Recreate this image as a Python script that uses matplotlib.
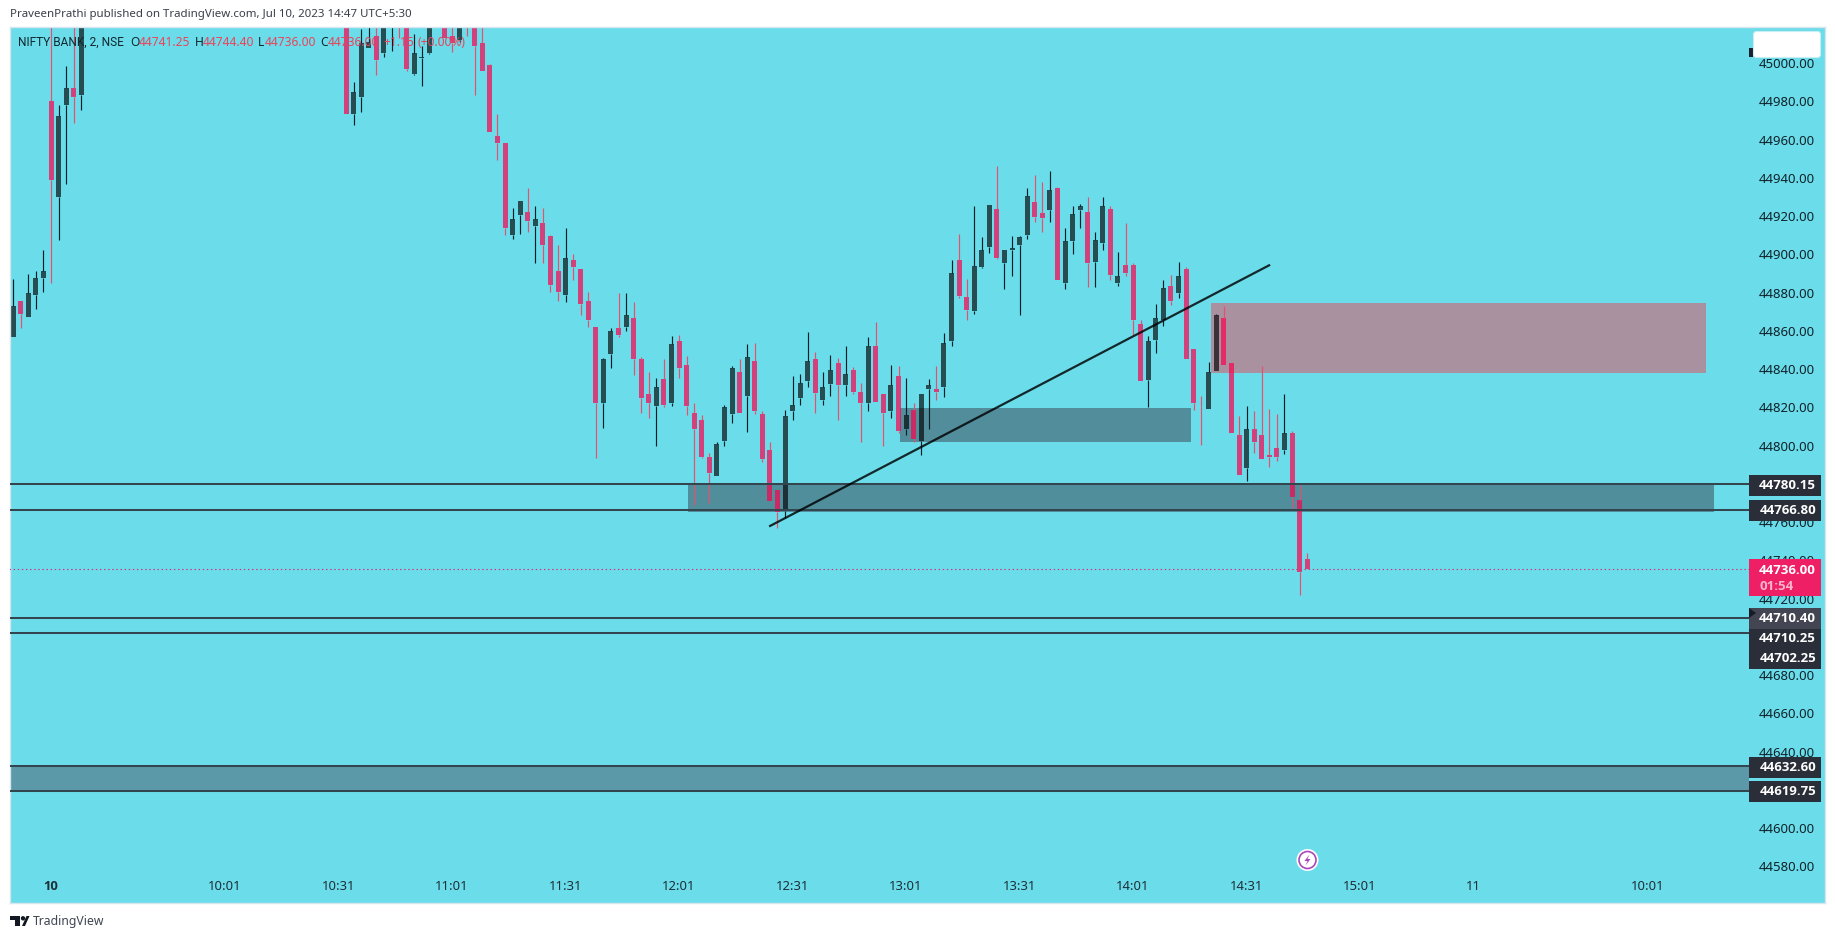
import numpy as np
import matplotlib
matplotlib.use("Agg")
import matplotlib.pyplot as plt
from matplotlib.patches import Rectangle, FancyBboxPatch, Polygon, Circle
from matplotlib.transforms import ScaledTranslation

plt.rcParams['font.family'] = ['Noto Sans', 'DejaVu Sans']

H = np.nan
HID = [H] * 34

# candle values, previous session tail then the visible ones; NaN = above the visible range
opens = [44857.4,44876.2,44867.8,44879.3,44888.2,44980.3,44930.6,44978.2,44987.1,44983.9] + HID + [
 45030,44973.5,44982.4,45008.5,45014.3,45005.4,45025,45030,45025,44994.9,45002.8,45005.4,H,45030,45014.3,45012.7,45030,45028,45011.1,44999.6,
 44962.5,44958.8,44910.7,44920.7,44922.7,44915.4,44916.5,44909.7,44891.4,44879.3,44897.6,44892.9,44876.2,44862.6,44822.4,44848.5,44861.6,44862.6,44867.3,44845.9,
 44827.6,44821.3,44835.4,44822.4,44854.8,44842.7,44817.6,44813.5,44794.6,44784.7,44803.0,44817.1,44838.6,44826.5,44844.8,44817.1,44798.3,44777.4,44766.4,44818.2,
 44825.0,44833.9,44845.4,44824.4,44832.8,44843.8,44832.3,44840.1,44828.6,44822.9,44852.7,44827.1,44818.7,44836.5,44808.8,44819.2,44803.0,44829.7,44830.2,44831.2,
 44854.8,44897.6,44878.3,44870.5,44893.5,44904.4,44924.3,44896.1,44902.9,44905.0,44910.7,44928.0,44922.2,44923.3,44934.8,44885.6,44907.6,44923.3,44922.7,44896.6,
 44906.5,44924.3,44885.6,44895.0,44895.0,44864.2,44834.9,44855.8,44866.3,44884.0,44880.4,44892.9,44851.1,44820.8,44819.7,44839.6,44867.3,44843.8,44806.1,44788.4,
 44808.8,44806.1,44795.7,44799.3,44798.3,44806.7,44772.1,44741.25]
highs = [44887.7,44876.2,44890.3,44891.4,44902.9,45035,44978.7,44998.6,45030,45035] + HID + [
 45035,44990.7,45018.4,45030,45022,45035,45035,45035,45030,45015.8,45009.5,45035,H,45035,45030,45035,45035,45035,45025,45000.1,
 44974.0,44958.8,44924.8,44928.5,44935.3,44925.9,44924.8,44910.7,44905.5,44913.9,44900.8,44892.9,44880.9,44862.6,44846.4,44862.1,44879.9,44880.4,44875.2,44846.9,
 44838.6,44835.9,44845.9,44857.9,44858.4,44847.4,44822.4,44816.6,44796.7,44802.5,44821.8,44842.2,44845.4,44853.7,44854.2,44818.2,44802.5,44777.4,44819.2,44837.0,
 44838.0,44860.0,44849.5,44839.1,44848.0,44846.4,44852.2,44841.7,44833.3,44856.9,44865.2,44827.1,44842.7,44842.2,44835.9,44822.9,44827.1,44835.4,44842.2,44859.5,
 44897.6,44911.2,44887.7,44925.4,44909.2,44926.4,44946.8,44902.4,44909.7,44910.2,44934.8,44941.6,44938.4,44943.7,44935.8,44913.9,44925.4,44926.9,44930.1,44912.3,
 44930.6,44925.9,44901.8,44916.5,44896.1,44865.8,44857.9,44874.6,44886.7,44889.8,44896.6,44893.5,44851.1,44826.5,44844.3,44869.4,44873.1,44843.8,44816.1,44821.3,
 44818.2,44842.2,44819.7,44817.1,44827.1,44808.2,44780.0,44744.4]
lows = [44856.9,44861.6,44867.6,44872.0,44880.9,44885.6,44908.1,44937.4,44969.3,44976.1] + HID + [
 44973.5,44968.2,44975.0,45008.3,44993.9,45003.8,45006.9,45013.7,44996.0,44994.4,44988.6,45005.0,H,45013.7,45006.4,45011.6,45014.3,44983.9,44996.0,44964.1,
 44949.9,44910.7,44908.6,44911.2,44912.3,44896.1,44896.1,44880.9,44876.2,44875.7,44887.2,44868.9,44862.6,44794.1,44809.8,44841.2,44856.9,44860.5,44837.5,44817.6,
 44815.0,44800.4,44820.8,44821.3,44835.9,44816.6,44769.5,44794.1,44770.6,44784.5,44799.9,44812.4,44817.4,44807.7,44817.1,44792.0,44771.4,44757.5,44762.7,44814.0,
 44821.8,44831.2,44817.6,44821.8,44826.5,44814.0,44826.5,44827.1,44802.5,44818.2,44823.2,44800.4,44815.0,44807.2,44806.1,44802.5,44795.2,44808.8,44824.4,44826.0,
 44852.2,44877.8,44866.3,44869.4,44893.3,44901.3,44898.0,44882.5,44889.3,44868.4,44908.6,44917.5,44911.8,44917.5,44887.0,44882.0,44900.8,44914.4,44883.5,44883.5,
 44902.9,44887.2,44884.0,44889.3,44858.4,44833.9,44820.3,44849.0,44863.1,44874.1,44877.8,44845.7,44819.2,44800.9,44819.5,44839.4,44842.5,44807.2,44785.0,44781.6,
 44796.7,44793.1,44789.4,44792.5,44796.2,44766.9,44722.0,44736.0]
closes = [44873.1,44869.4,44879.9,44888.2,44891.9,44939.0,44972.9,44987.1,44982.9,45026] + HID + [
 44973.5,44985.5,45011.1,45011.6,45002.2,45025,45030,45024,44997.5,45005.9,45003.8,45028,H,45013.7,45011.1,45025,45025,45009.5,44996.0,44964.1,
 44958.8,44914.4,44919.1,44928.5,44918.0,44919.1,44905.0,44884.6,44880.9,44898.2,44893.5,44874.6,44865.8,44822.4,44845.4,44860.5,44858.4,44868.4,44845.9,44825.5,
 44822.4,44831.2,44821.8,44853.7,44841.2,44821.3,44809.3,44794.6,44786.3,44801.4,44820.3,44840.7,44817.6,44846.9,44818.7,44793.6,44771.6,44765.9,44816.1,44821.8,
 44833.3,44844.8,44828.1,44831.2,44840.1,44831.8,44838.0,44828.6,44822.9,44852.7,44823.4,44817.6,44831.8,44808.2,44816.6,44804.0,44827.1,44832.3,44828.6,44854.2,
 44890.8,44878.8,44871.5,44894.5,44902.9,44926.4,44898.2,44902.4,44903.9,44909.2,44931.1,44920.1,44919.6,44934.2,44887.2,44907.1,44921.7,44925.9,44895.6,44908.1,
 44925.4,44889.8,44888.8,44890.8,44865.8,44834.4,44854.8,44867.3,44883.0,44876.2,44889.3,44845.9,44822.9,44820.3,44839.1,44868.4,44842.7,44807.2,44785.2,44809.3,
 44802.0,44793.6,44794.6,44794.6,44806.7,44773.7,44734.5,44736.0]
opens, highs, lows, closes = map(np.array, (opens, highs, lows, closes))
idx = np.arange(len(opens))

ytick_vals = list(range(44580, 45001, 20))
xtick_idx = [5, 28, 43, 58, 73, 88, 103, 118, 133, 148, 163, 178, 193, 216]
xtick_labels = ['10', '10:01', '10:31', '11:01', '11:31', '12:01', '12:31', '13:01', '13:31',
                '14:01', '14:31', '15:01', '11', '10:01']

level_lines = [44780.15, 44766.80, 44710.40, 44702.25, 44632.60, 44619.75]
last_price = 44736.00
trend_x = [99.9, 166.1]
trend_y = [44758.1, 44894.9]
# zones: (start bar, end bar, low price, high price)
zone_dark_a = (89.2, 224.7, 44765.8, 44780.15)
zone_dark_b = (117.2, 155.7, 44802.0, 44820.0)
zone_dark_c = (-0.5, 229.4, 44619.75, 44632.60)
zone_pink = (158.3, 223.7, 44838.5, 44875.0)

side_prices = ['44780.15', '44766.80', '44710.40', '44710.25', '44702.25', '44632.60', '44619.75']

W, HT = 1835, 939
fig = plt.figure(figsize=(W / 100, HT / 100), dpi=100, facecolor='white')
L, R, T, B = 10, 1825, 27, 903
ax = fig.add_axes([L / W, 1 - B / HT, (R - L) / W, (B - T) / HT])
BG = '#6bdcea'
ax.set_facecolor(BG)
Y0 = 63.8
ax.set_xlim((L - 13.2) / 7.567, (R - 13.2) / 7.567)
ax.set_ylim(45000 - (B - Y0) / 1.9125, 45000 + (Y0 - T) / 1.9125)
for s in ax.spines.values():
    s.set_color('#d5e6ef')
    s.set_linewidth(1.0)
ax.set_axisbelow(True)
ax.grid(False)

ax.yaxis.tick_right()
ax.set_yticks(ytick_vals)
ax.set_yticklabels([f'{v:.2f}' for v in ytick_vals])
ax.tick_params(axis='y', length=0, pad=-47.5, labelsize=9.45, labelcolor='#10222a')
up_shift = ScaledTranslation(0, 0.6 / 100, fig.dpi_scale_trans)
for lab in ax.get_yticklabels():
    lab.set_transform(lab.get_transform() + up_shift)
ax.set_xticks(xtick_idx)
ax.set_xticklabels(xtick_labels)
ax.tick_params(axis='x', length=0, pad=-16.5, labelsize=9.4, labelcolor='#1c3038')
first_tick = ax.get_xticklabels()[0]
first_tick.set_fontfamily('Open Sans')
first_tick.set_fontweight('bold')

def band(z, color):
    ax.add_patch(Rectangle((z[0], z[2]), z[1] - z[0], z[3] - z[2], facecolor=color,
                           edgecolor='none', zorder=1))

band(zone_dark_c, '#5b98a8')
band(zone_dark_a, '#518e9c')
band(zone_dark_b, '#528d9c')
band(zone_pink, '#a9919f')

# candles
ok = ~np.isnan(opens)
up = closes >= opens
body_lo = np.minimum(opens, closes)
body_hi = np.maximum(opens, closes)
for mask, body_col, body_a, wick_col in ((ok & up, '#000000', 0.65, '#03202a'),
                                         (ok & ~up, '#ff004d', 0.70, '#e84f6c')):
    ax.bar(idx[mask], (body_hi - body_lo)[mask], bottom=body_lo[mask], width=0.66,
           color=body_col, alpha=body_a, linewidth=0, zorder=2)
    ax.vlines(idx[mask], body_hi[mask], highs[mask], color=wick_col, lw=0.85, zorder=2)
    ax.vlines(idx[mask], lows[mask], body_lo[mask], color=wick_col, lw=0.85, zorder=2)

ax.hlines(level_lines, -0.5, 229.4, color='#33454f', lw=1.45, zorder=3)
ax.hlines([last_price], -0.5, 229.4, color='#d6307c', lw=0.8, linestyles=(0, (1.3, 2.4)), zorder=3)
ax.plot(trend_x, trend_y, color='#000000', alpha=0.82, lw=1.6, solid_capstyle='butt', zorder=4)

# overlay in pixel coordinates for the chart furniture
ov = fig.add_axes([0, 0, 1, 1], facecolor='none')
ov.set_xlim(0, W)
ov.set_ylim(HT, 0)
ov.axis('off')

def pt(px):
    return px * 0.72

# white box and marker at top right
ov.add_patch(Rectangle((1749, 48), 3.5, 9, facecolor='#1a2030', edgecolor='none', zorder=5))
ov.add_patch(FancyBboxPatch((1755, 33), 64, 23, boxstyle='round,pad=1.5,rounding_size=3',
                            facecolor='white', edgecolor='#c9eef4', lw=0.8, zorder=6))

# price labels
boxes = [(475, 21, '#2a2e39'), (500, 21, '#2a2e39'), (608, 21, '#434652'), (629, 20, '#2a2e39'),
         (649, 20, '#2a2e39'), (757, 21, '#2a2e39'), (781, 21, '#2a2e39')]
for (top, h, c), s in zip(boxes, side_prices):
    ov.add_patch(Rectangle((1749, top), 72, h, facecolor=c, edgecolor='none', zorder=5))
    ov.text(1816, top + h / 2, s, color='white', fontsize=pt(13.3), fontweight='bold',
            family='Open Sans', ha='right', va='center', zorder=7)
ov.add_patch(Polygon([(1749, 608), (1756, 613), (1749, 618)], facecolor='#171b26', edgecolor='none', zorder=6))
ov.add_patch(Rectangle((1749, 559), 72, 37, facecolor='#ef1f66', edgecolor='none', zorder=5))
ov.text(1816, 570, f'{last_price:.2f}', color='white', fontsize=pt(13.3), fontweight='bold',
        family='Open Sans', ha='right', va='center', zorder=7)
ov.text(1759, 586, '01:54', color='#fbb4cd', fontsize=pt(13.3), fontweight='bold',
        family='Open Sans', ha='left', va='center', zorder=7)

# header
ov.text(10, 14.5, 'PraveenPrathi published on TradingView.com, Jul 10, 2023 14:47 UTC+5:30',
        color='#3a3f4a', fontsize=pt(11.5), ha='left', va='center')

# legend line
RED = '#e8445a'
DARK = '#10282f'
legend_parts = [(18, 'NIFTY BANK, 2, NSE', DARK), (130.5, 'O', DARK), (139, '44741.25', RED),
                (194.5, 'H', DARK), (203, '44744.40', RED), (258, 'L', DARK), (264.5, '44736.00', RED),
                (320, 'C', DARK), (327.4, '44736.00', RED), (383.5, '+1.15', RED), (417, '(+0.00%)', RED)]
for x, s, c in legend_parts:
    ov.text(x, 42, s, color=c, fontsize=pt(11.9 if s.startswith('NIFTY') else 12),
            family='Roboto' if s.startswith('NIFTY') else 'Noto Sans',
            ha='left', va='center', zorder=8)

# footer logo and name
ov.add_patch(Polygon([(10, 916), (20, 916), (20, 926), (15, 926), (15, 920), (10, 920)],
                     facecolor='#131722', edgecolor='none'))
ov.add_patch(Circle((23, 918.3), 2.2, facecolor='#131722', edgecolor='none'))
ov.add_patch(Polygon([(22, 926), (26.5, 916), (29.5, 916), (25, 926)], facecolor='#131722', edgecolor='none'))
ov.text(33, 921, 'TradingView', color='#3f4550', fontsize=pt(12.2), ha='left', va='center')

# lightning badge
ov.add_patch(Circle((1307.5, 860), 11, facecolor='white', edgecolor='none', zorder=6))
ov.add_patch(Circle((1307.5, 860), 8.5, facecolor='white', edgecolor='#ab47bc', lw=1.2, zorder=7))
ov.add_patch(Polygon([(1309.5, 854.5), (1304.5, 861), (1307.5, 861), (1305.5, 865.5),
                      (1310.5, 859), (1307.5, 859)], facecolor='#ab47bc', edgecolor='none', zorder=8))

fig.savefig('out.png', dpi=100)
